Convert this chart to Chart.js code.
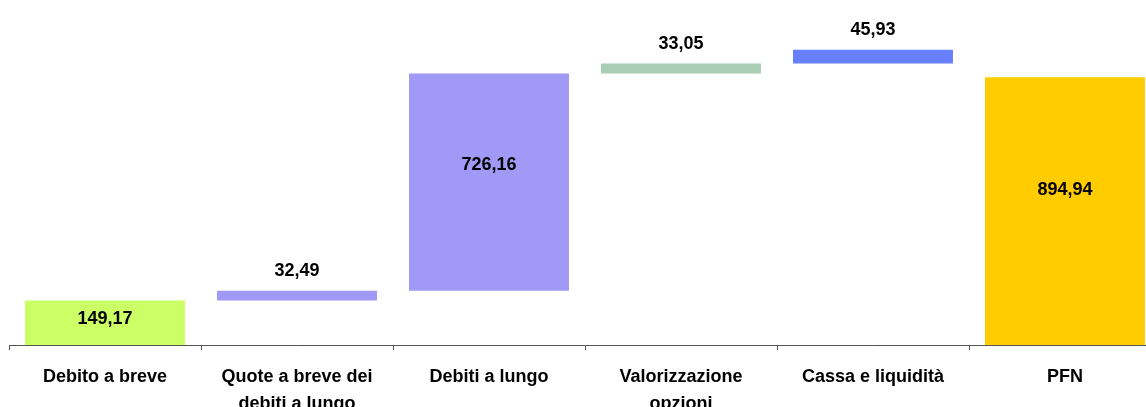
<!DOCTYPE html>
<html>
<head>
<meta charset="utf-8">
<script src="https://cdn.jsdelivr.net/npm/chart.js@4"></script>
<style>
  html, body { margin: 0; padding: 0; background: #fff; overflow: hidden; }
  #wrap { width: 1162px; height: 432px; }
</style>
</head>
<body>
<div id="wrap"><canvas id="chartPfn" width="1162" height="432"></canvas></div>
<script>
// Dati del grafico (PFN a cascata)
const categorie = ['Debito a breve', ['Quote a breve dei', 'debiti a lungo'], 'Debiti a lungo',
    ['Valorizzazione', 'opzioni'], 'Cassa e liquidità', 'PFN'];
const valori = [149.17, 32.49, 726.16, 33.05, 45.93, 894.94];
const totale = [true, false, false, false, false, true];
const colori = ['#CCFF66', '#A099F6', '#A099F6', '#A8CFB4', '#6680FF', '#FFCC00'];

// Costruisce le barre flottanti [inizio, fine]
let cumulato = 0;
const barre = valori.map((v, i) => {
    let inizio = totale[i] ? 0 : cumulato;
    let fine = inizio + v;
    cumulato = fine;
    return [inizio, fine];
});

function formatta(v) {
    return v.toFixed(2).replace('.', ',');
}

// Plugin per le etichette dei valori
const etichette = {
    id: 'etichette',
    afterDatasetsDraw(chart) {
        const ctx = chart.ctx;
        const meta = chart.getDatasetMeta(0);
        ctx.save();
        ctx.font = 'bold 18px "Liberation Sans", Arial, sans-serif';
        ctx.fillStyle = '#000';
        ctx.textAlign = 'center';
        ctx.textBaseline = 'middle';
        meta.data.forEach((bar, i) => {
            const top = Math.min(bar.y, bar.base);
            const h = Math.abs(bar.base - bar.y);
            let y = h > 30 ? top + h * 0.42 : top - 20;
            ctx.fillText(formatta(valori[i]), bar.x, y);
        });
        ctx.restore();
    }
};

const ctx = document.getElementById('chartPfn').getContext('2d');
new Chart(ctx, {
    type: 'bar',
    data: {
        labels: categorie,
        datasets: [{
            data: barre,
            backgroundColor: colori,
            borderWidth: 0,
            categoryPercentage: 1,
            barPercentage: 0.833
        }]
    },
    options: {
        responsive: false,
        animation: false,
        devicePixelRatio: 1,
        layout: { padding: { top: 16, left: 9, right: 1, bottom: 0 } },
        plugins: { legend: { display: false }, tooltip: { enabled: false } },
        scales: {
            x: {
                grid: { display: true, drawOnChartArea: false, offset: true, tickLength: 5, color: '#555' },
                border: { display: true, color: '#555', width: 1 },
                ticks: {
                    color: '#000',
                    padding: 14,
                    maxRotation: 0,
                    autoSkip: false,
                    font: { family: '"Liberation Sans", Arial, sans-serif', size: 18, weight: 'bold', lineHeight: 1.5 }
                }
            },
            y: {
                display: false,
                min: 0,
                max: 1100
            }
        }
    },
    plugins: [etichette]
});
</script>
</body>
</html>
